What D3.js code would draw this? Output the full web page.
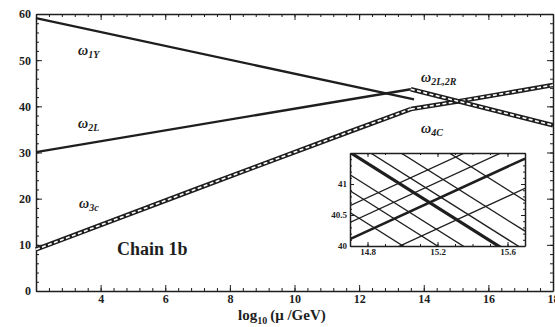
<!DOCTYPE html>
<html><head><meta charset="utf-8">
<script src="https://cdn.jsdelivr.net/npm/d3@7"></script>
<style>
html,body{margin:0;padding:0;background:#fff;}
svg{display:block;}
text{font-family:"Liberation Serif","DejaVu Serif",serif;fill:#1e1e1e;}
</style></head><body>
<svg id="chart" width="555" height="327"></svg>
<script>
// Running inverse couplings against x = log10(mu / GeV)
const omega1Y_x = [2, 13.7];
const omega1Y_y = [59.1, 41.5];
const omega2L_x = [2, 13.6];
const omega2L_y = [30.1, 43.7];
const omega2L2R_x = [13.6, 18];
const omega2L2R_y = [43.7, 35.9];
const omega3c_x = [2, 7, 11.7, 13.6];
const omega3c_y = [9.0, 22.2, 34.5, 39.4];
const omega4C_x = [13.6, 15.0, 18];
const omega4C_y = [39.4, 41.0, 44.6];

const xTickValues = [2, 4, 6, 8, 10, 12, 14, 16, 18];
const xTickLabels = ["", "4", "6", "8", "10", "12", "14", "16", "18"];
const yTickValues = [0, 10, 20, 30, 40, 50, 60];
const yTickLabels = ["0", "10", "20", "30", "40", "50", "60"];

// Inset: close-up of the crossing region
const insetXTicks = [14.8, 15.2, 15.6];
const insetXLabels = ["14.8", "15.2", "15.6"];
const insetYTicks = [40, 40.5, 41];
const insetYLabels = ["40", "40.5", "41"];
// band edges, each given by its values at x = 14.7 and x = 15.7
const insetEnds_x = [14.7, 15.7];
const fallingLight_start = [40.54, 40.89, 41.15, 41.71, 42.02, 42.51];
const fallingLight_end   = [38.76, 39.11, 39.37, 39.93, 40.24, 40.73];
const fallingHeavy_start = [41.51];
const fallingHeavy_end   = [39.73];
const risingLight_start = [39.63, 40.38, 40.65];
const risingLight_end   = [40.93, 41.68, 41.95];
const risingHeavy_start = [40.11];
const risingHeavy_end   = [41.41];

const svg = d3.select("#chart");
const ink = "#1e1e1e";

const x = d3.scaleLinear().domain([2, 18]).range([36, 553]);
const y = d3.scaleLinear().domain([0, 60]).range([291, 14]);
const zip = (xs, ys) => xs.map((v, i) => [v, ys[i]]);
const line = d3.line().x(d => x(d[0])).y(d => y(d[1]));

// frame on all four sides, ticks pointing inward, labels on bottom and left
function frameAxes(g, xs, ys, opts) {
  const minorX = d3.range(xs.domain()[0], xs.domain()[1] + 1e-9, opts.xMinor);
  const minorY = d3.range(ys.domain()[0], ys.domain()[1] + 1e-9, opts.yMinor);
  const [x0, x1] = xs.range();
  const [y0, y1] = ys.range();
  const sides = [
    [d3.axisBottom, xs, y0, "x", true],
    [d3.axisTop, xs, y1, "x", false],
    [d3.axisLeft, ys, x0, "y", true],
    [d3.axisRight, ys, x1, "y", false]
  ];
  sides.forEach(([make, sc, pos, dim, labelled]) => {
    const isX = dim === "x";
    const shift = isX ? `translate(0,${pos})` : `translate(${pos},0)`;
    const gm = g.append("g").attr("transform", shift)
      .call(make(sc).tickValues(isX ? minorX : minorY).tickSize(-opts.minorLen).tickFormat(""));
    gm.select(".domain").remove();
    const vals = isX ? opts.xTicks : opts.yTicks;
    const labs = isX ? opts.xLabels : opts.yLabels;
    const ax = make(sc).tickValues(vals).tickSize(-opts.majorLen).tickSizeOuter(0)
      .tickPadding(isX ? opts.xPad : opts.yPad)
      .tickFormat(labelled ? ((d, i) => labs[i]) : "");
    const ga = g.append("g").attr("transform", shift).call(ax);
    ga.selectAll("text").attr("font-size", opts.fontSize).attr("font-weight", "bold")
      .attr("font-family", '"Liberation Serif","DejaVu Serif",serif').attr("fill", ink);
    ga.select(".domain").attr("stroke", ink).attr("stroke-width", opts.frameW);
    g.selectAll(".tick line").attr("stroke", ink).attr("stroke-width", 1);
  });
}

const main = svg.append("g");
frameAxes(main, x, y, {
  xTicks: xTickValues, xLabels: xTickLabels, yTicks: yTickValues, yLabels: yTickLabels,
  xMinor: 0.4, yMinor: 2, majorLen: 6, minorLen: 3, xPad: 3, yPad: 5, fontSize: 12, frameW: 1.5
});

// single-line curves
[[omega1Y_x, omega1Y_y], [omega2L_x, omega2L_y]].forEach(([xs, ys]) => {
  main.append("path").attr("d", line(zip(xs, ys)))
    .attr("fill", "none").attr("stroke", ink).attr("stroke-width", 2.3);
});
// double-line (band) curves
[[omega3c_x, omega3c_y], [omega4C_x, omega4C_y], [omega2L2R_x, omega2L2R_y]].forEach(([xs, ys]) => {
  const d = line(zip(xs, ys));
  main.append("path").attr("d", d).attr("fill", "none")
    .attr("stroke", ink).attr("stroke-width", 4.6).attr("stroke-linejoin", "round");
  main.append("path").attr("d", d).attr("fill", "none")
    .attr("stroke", "#fff").attr("stroke-width", 1.6).attr("stroke-dasharray", "4 2.4");
});

// curve labels
function omegaLabel(px, py, sub) {
  const t = main.append("text").attr("x", px).attr("y", py)
    .attr("font-size", 14).attr("font-style", "italic").attr("font-weight", "bold");
  t.append("tspan").text("ω");
  t.append("tspan").attr("dy", 3).attr("font-size", 10).text(sub);
}
omegaLabel(78, 55, "1Y");
omegaLabel(78, 128, "2L");
omegaLabel(79, 208, "3c");
omegaLabel(421, 82, "2L,2R");
omegaLabel(421, 133, "4C");

main.append("text").attr("x", 117).attr("y", 255)
  .attr("font-size", 18).attr("font-weight", "bold").text("Chain 1b");

// axis title
const title = main.append("text").attr("x", 238).attr("y", 320)
  .attr("font-size", 15).attr("font-weight", "bold");
title.append("tspan").text("log");
title.append("tspan").attr("dy", 4).attr("font-size", 10).text("10");
title.append("tspan").attr("dy", -4).attr("dx", 3).text("(μ /GeV)");

// inset
const xi = d3.scaleLinear().domain([14.7, 15.7]).range([350, 525]);
const yi = d3.scaleLinear().domain([40, 41.5]).range([246, 153]);
const inset = svg.append("g");
inset.append("rect").attr("x", 320).attr("y", 150).attr("width", 207).attr("height", 112).attr("fill", "#fff");
svg.append("clipPath").attr("id", "insetClip").append("rect")
  .attr("x", 350).attr("y", 153).attr("width", 175).attr("height", 93);
const lineI = d3.line().x(d => xi(d[0])).y(d => yi(d[1]));
const lines = inset.append("g").attr("clip-path", "url(#insetClip)");
function insetSet(starts, ends, w) {
  starts.forEach((s, i) => {
    lines.append("path").attr("d", lineI(zip(insetEnds_x, [s, ends[i]])))
      .attr("fill", "none").attr("stroke", ink).attr("stroke-width", w);
  });
}
insetSet(fallingLight_start, fallingLight_end, 1.3);
insetSet(risingLight_start, risingLight_end, 1.3);
insetSet(fallingHeavy_start, fallingHeavy_end, 3.2);
insetSet(risingHeavy_start, risingHeavy_end, 2.6);

frameAxes(inset, xi, yi, {
  xTicks: insetXTicks, xLabels: insetXLabels, yTicks: insetYTicks, yLabels: insetYLabels,
  xMinor: 0.1, yMinor: 0.1, majorLen: 4, minorLen: 2, xPad: 3, yPad: 3, fontSize: 9, frameW: 1.5
});
</script>
</body></html>
